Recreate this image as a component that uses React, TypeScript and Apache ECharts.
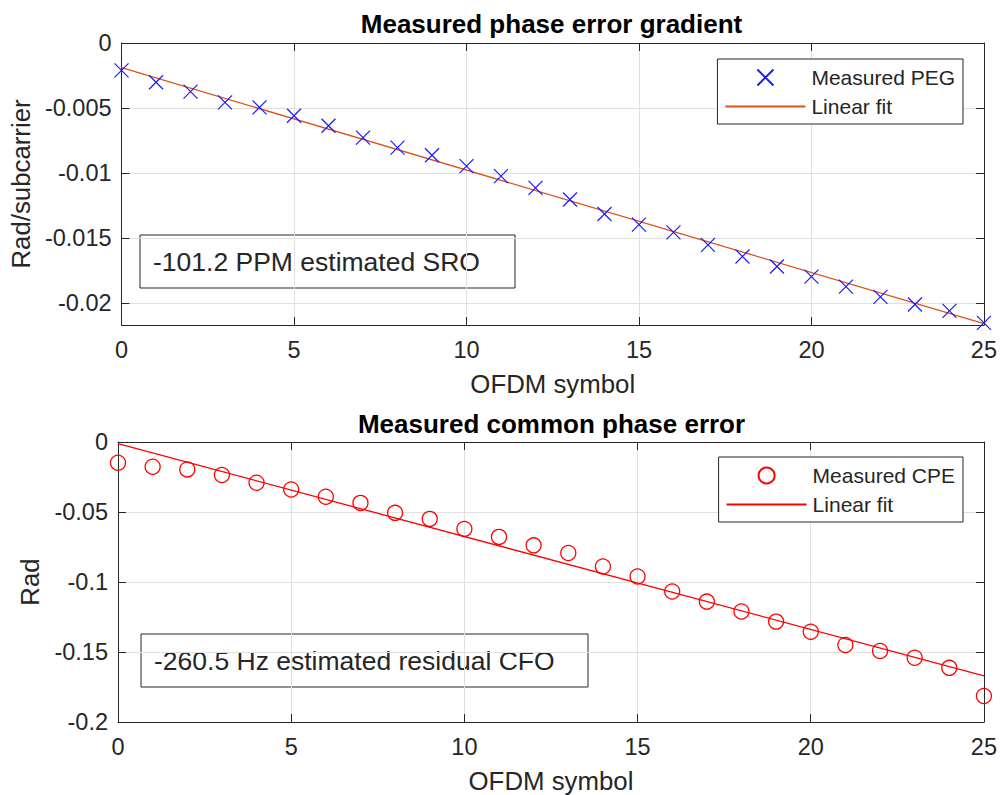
import React, { useEffect, useRef } from "react";
import * as echarts from "echarts";

// ---- data ----
const symbols = [0, 1, 2, 3, 4, 5, 6, 7, 8, 9, 10, 11, 12, 13, 14, 15, 16, 17, 18, 19, 20, 21, 22, 23, 24, 25];
const pegValues = [
  -0.00211, -0.00302, -0.00374, -0.00457, -0.00495, -0.0056, -0.00637, -0.00728, -0.00805, -0.00864,
  -0.00947, -0.01024, -0.01115, -0.01204, -0.01316, -0.01398, -0.01457, -0.01553, -0.01643, -0.0172,
  -0.01798, -0.01875, -0.01953, -0.02012, -0.02061, -0.02154,
];
const pegFitX = [0, 25];
const pegFitY = [-0.0019, -0.0216];
const cpeValues = [
  -0.0148, -0.0177, -0.0196, -0.0236, -0.0291, -0.0339, -0.0391, -0.0435, -0.0506, -0.0549,
  -0.0621, -0.0678, -0.0738, -0.0793, -0.0889, -0.0961, -0.1068, -0.114, -0.1211, -0.1283,
  -0.1355, -0.145, -0.1493, -0.1541, -0.1613, -0.1814,
];
const cpeFitX = [0, 25];
const cpeFitY = [-0.0012, -0.167];
const titles = ["Measured phase error gradient", "Measured common phase error"];
const yNames = ["Rad/subcarrier", "Rad"];
const xName = "OFDM symbol";
const notes = ["-101.2 PPM estimated SRO", "-260.5 Hz estimated residual CFO"];
const xRange = [0, 25];
const xStep = 5;
const pegRange = [-0.0217, 0];
const cpeRange = [-0.2, 0];
const cpeStep = 0.05;

const FONT = "'Liberation Sans', Arial, Helvetica, sans-serif";
const AX = "#262626";
const GRIDC = "#e0e0e0";

const X_PATH = "path://M0,0L10,10M10,0L0,10";

function xAxisPair(gi: number, withName: boolean) {
  const common = {
    gridIndex: gi,
    type: "value",
    min: xRange[0],
    max: xRange[1],
    interval: xStep,
    axisLine: { show: true, onZero: false, lineStyle: { color: AX, width: 1 } },
    axisTick: { show: true, inside: true, length: 8, lineStyle: { color: AX, width: 1 } },
  };
  return [
    {
      ...common,
      position: "bottom",
      axisLabel: { show: true, margin: 13, fontSize: 23.5, color: AX, fontFamily: FONT },
      splitLine: { show: true, lineStyle: { color: GRIDC, width: 1 } },
      name: withName ? xName : "",
      nameLocation: "middle",
      nameGap: 46,
      nameTextStyle: { fontSize: 25.8, color: AX, fontFamily: FONT },
    },
    {
      ...common,
      position: "top",
      axisLabel: { show: false },
      splitLine: { show: false },
    },
  ];
}

function yAxisPair(gi: number, range: number[], step: number | undefined, name: string, gap: number) {
  const common: any = {
    gridIndex: gi,
    type: "value",
    min: range[0],
    max: range[1],
    axisLine: { show: true, onZero: false, lineStyle: { color: AX, width: 1 } },
    axisTick: { show: true, inside: true, length: 8, lineStyle: { color: AX, width: 1 } },
  };
  if (step !== undefined) common.interval = step;
  return [
    {
      ...common,
      position: "left",
      axisLabel: {
        show: true,
        margin: 10,
        fontSize: 23.5,
        color: AX,
        fontFamily: FONT,
        showMinLabel: step !== undefined,
      },
      splitLine: { show: true, lineStyle: { color: GRIDC, width: 1 } },
      name,
      nameLocation: "middle",
      nameGap: gap,
      nameTextStyle: { fontSize: 25.8, color: AX, fontFamily: FONT },
    },
    {
      ...common,
      position: "right",
      axisLabel: { show: false },
      splitLine: { show: false },
    },
  ];
}

function noteBox(x: number, y: number, w: number, h: number, text: string) {
  return {
    type: "group",
    z: 50,
    children: [
      {
        type: "rect",
        shape: { x, y, width: w, height: h },
        style: { fill: "#ffffff", stroke: AX, lineWidth: 1 },
      },
      {
        type: "text",
        x: x + 13,
        y: y + h / 2,
        style: {
          text,
          fill: AX,
          fontSize: 26.5,
          fontFamily: FONT,
          align: "left",
          verticalAlign: "middle",
          textAlign: "left",
          textVerticalAlign: "middle",
        },
      },
    ],
  };
}

function titleText(x: number, y: number, text: string) {
  return {
    type: "text",
    x,
    y,
    z: 50,
    style: {
      text,
      fill: "#000000",
      fontSize: 26,
      fontWeight: "bold",
      fontFamily: FONT,
      align: "center",
      verticalAlign: "middle",
      textAlign: "center",
      textVerticalAlign: "middle",
    },
  };
}

const legendFormatter = (name: string) => (name.indexOf("Linear fit") === 0 ? "Linear fit" : name);

function legendOf(names: string[], top: number) {
  return {
    data: [
      { name: names[0] },
      { name: names[1], itemStyle: { opacity: 0 } },
    ],
    orient: "vertical",
    right: 37,
    top,
    itemWidth: 80,
    itemHeight: 16,
    itemGap: 8,
    padding: [8, 8, 7, 7],
    borderColor: AX,
    borderWidth: 1,
    borderRadius: 0,
    backgroundColor: "#ffffff",
    selectedMode: false,
    formatter: legendFormatter,
    textStyle: { fontSize: 21, color: AX, fontFamily: FONT, padding: [0, 0, 0, 1] },
    z: 50,
  };
}

export default function App() {
  const ref = useRef<HTMLDivElement>(null);

  useEffect(() => {
    if (!ref.current) return;
    const chart = echarts.init(ref.current, undefined, { renderer: "svg" });

    const pegPoints = symbols.map((s, i) => [s, pegValues[i]]);
    const cpePoints = symbols.map((s, i) => [s, cpeValues[i]]);
    const pegFit = pegFitX.map((x, i) => [x, pegFitY[i]]);
    const cpeFit = cpeFitX.map((x, i) => [x, cpeFitY[i]]);

    const option: any = {
      animation: false,
      backgroundColor: "#ffffff",
      textStyle: { fontFamily: FONT },
      grid: [
        { left: 118, top: 43, width: 867, height: 282, containLabel: false },
        { left: 118, top: 442, width: 867, height: 280, containLabel: false },
      ],
      xAxis: [...xAxisPair(0, true), ...xAxisPair(1, true)],
      yAxis: [
        ...yAxisPair(0, pegRange, undefined, yNames[0], 86),
        ...yAxisPair(1, cpeRange, cpeStep, yNames[1], 75),
      ],
      legend: [
        legendOf(["Measured PEG", "Linear fit PEG"], 59),
        legendOf(["Measured CPE", "Linear fit CPE"], 457),
      ],
      series: [
        {
          name: "Linear fit PEG",
          type: "line",
          xAxisIndex: 0,
          yAxisIndex: 0,
          data: pegFit,
          symbol: "none",
          lineStyle: { color: "#D95319", width: 1.3 },
          itemStyle: { color: "#D95319" },
          z: 3,
        },
        {
          name: "Measured PEG",
          type: "scatter",
          xAxisIndex: 0,
          yAxisIndex: 0,
          data: pegPoints,
          symbol: X_PATH,
          symbolSize: 14,
          clip: false,
          itemStyle: { color: "rgba(0,0,0,0)", borderColor: "#1a1aff", borderWidth: 1.2, opacity: 1 },
          z: 4,
        },
        {
          name: "Linear fit CPE",
          type: "line",
          xAxisIndex: 2,
          yAxisIndex: 2,
          data: cpeFit,
          symbol: "none",
          lineStyle: { color: "#ff0000", width: 1.3 },
          itemStyle: { color: "#ff0000" },
          z: 3,
        },
        {
          name: "Measured CPE",
          type: "scatter",
          xAxisIndex: 2,
          yAxisIndex: 2,
          data: cpePoints,
          symbol: "circle",
          symbolSize: 15,
          clip: false,
          itemStyle: { color: "rgba(0,0,0,0)", borderColor: "#ff0000", borderWidth: 1.3, opacity: 1 },
          z: 4,
        },
      ],
      graphic: [
        titleText(551.5, 24, titles[0]),
        titleText(551.5, 424, titles[1]),
        noteBox(140, 235, 375, 53, notes[0]),
        noteBox(141, 634, 447, 53, notes[1]),
      ],
    };

    chart.setOption(option);
    return () => chart.dispose();
  }, []);

  return (
    <div
      ref={ref}
      style={{ position: "absolute", left: 0, top: 0, width: 1000, height: 795, background: "#fff" }}
    />
  );
}
